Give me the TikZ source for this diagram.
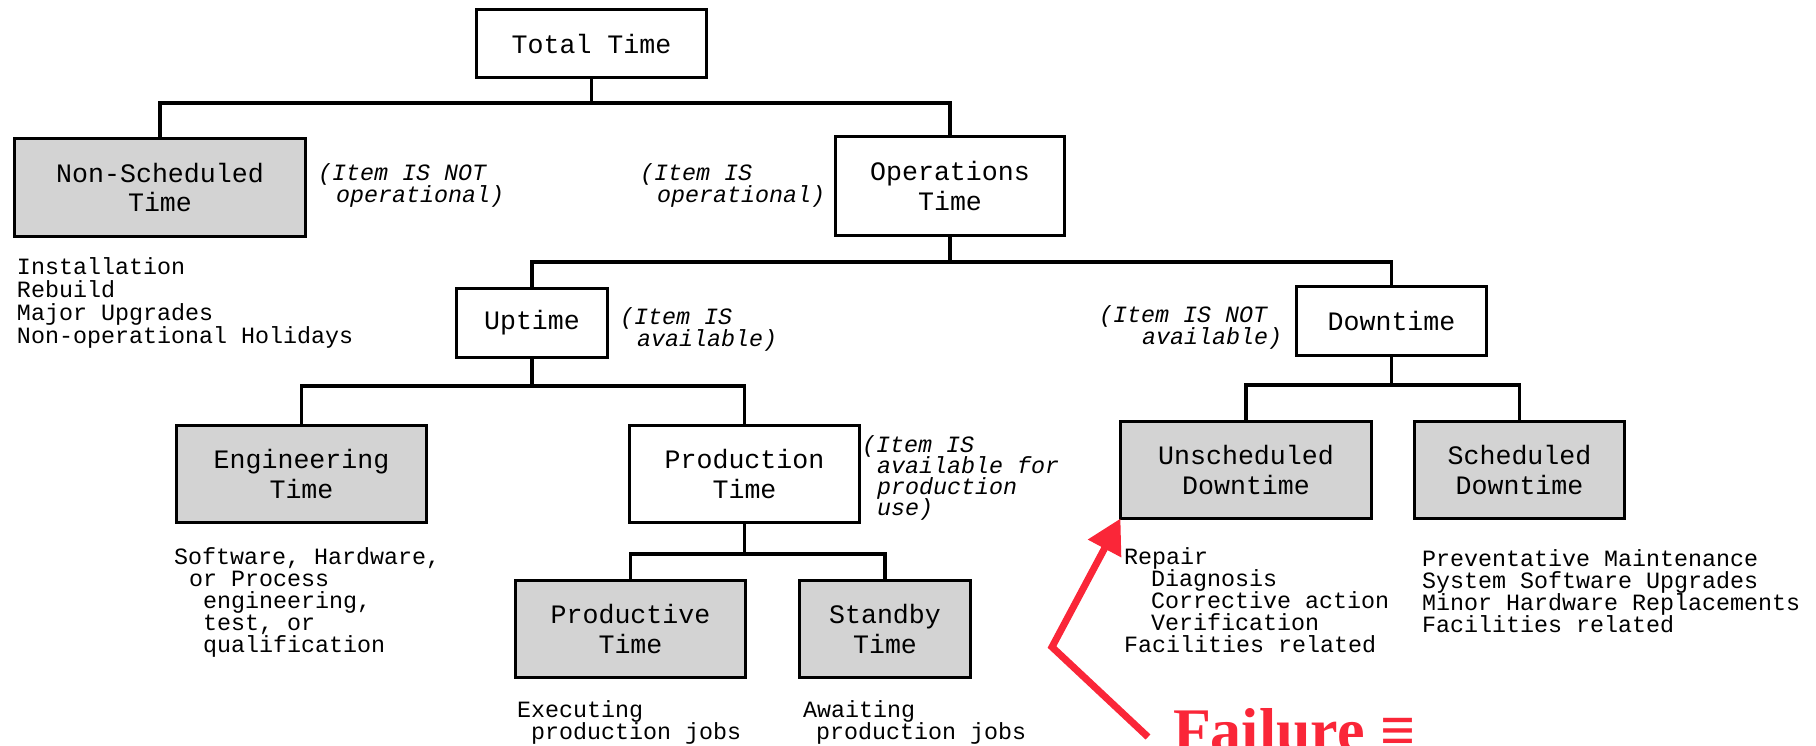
\documentclass[tikz,border=0pt]{standalone}
\usepackage{fontspec}
\setmainfont{Liberation Serif}
\setmonofont{Liberation Mono}
\usetikzlibrary{arrows.meta}
\definecolor{boxgray}{RGB}{211,211,211}
\definecolor{failred}{RGB}{250,38,56}
\tikzset{
  every node/.style={inner sep=0pt, outer sep=0pt},
  tbox/.style={draw=black, line width=1.8pt, fill=white, align=center,
    font=\fontsize{13.3pt}{14.8pt}\selectfont\ttfamily},
  gbox/.style={tbox, fill=boxgray},
  conn/.style={line width=1.7pt},
  note/.style={anchor=base west, font=\fontsize{11.67pt}{11pt}\selectfont\ttfamily},
  inote/.style={note, font=\fontsize{11.67pt}{11pt}\selectfont\ttfamily\itshape},
  failtext/.style={anchor=base west, text=failred,
    font=\fontsize{31pt}{31pt}\selectfont\bfseries},
  failarrow/.style={draw=failred, line width=3.5pt,
    -{Triangle[length=17pt,width=18pt]}},
}
\begin{document}
\begin{tikzpicture}[x=0.5pt, y=-0.5pt]
\useasboundingbox (0,0) rectangle (1816,745);
\clip (0,0) rectangle (1816,745);

% boxes of the time breakdown
\node[tbox, minimum width=115pt,   minimum height=34pt]   (total)   at (591.5,43.5) {Total Time};
\node[gbox, minimum width=145.5pt, minimum height=49pt]   (nonsch)  at (160,187.5)  {Non-Scheduled\\Time};
\node[tbox, minimum width=114.5pt, minimum height=49.5pt] (ops)     at (950,186)    {Operations\\Time};
\node[tbox, minimum width=75.5pt,  minimum height=34.5pt] (uptime)  at (532,323)    {Uptime};
\node[tbox, minimum width=95pt,    minimum height=34.5pt] (down)    at (1391.5,321) {Downtime};
\node[gbox, minimum width=125pt,   minimum height=48.5pt] (eng)     at (301.5,474)  {Engineering\\Time};
\node[tbox, minimum width=115pt,   minimum height=48.5pt] (prod)    at (744.5,474)  {Production\\Time};
\node[gbox, minimum width=115pt,   minimum height=48.5pt] (prodve)  at (630.5,629)  {Productive\\Time};
\node[gbox, minimum width=85.5pt,  minimum height=48.5pt] (standby) at (885,629)    {Standby\\Time};
\node[gbox, minimum width=125.5pt, minimum height=48.5pt] (unsched) at (1246,470)   {Unscheduled\\Downtime};
\node[gbox, minimum width=105pt,   minimum height=48.5pt] (sched)   at (1519.5,470) {Scheduled\\Downtime};

% heights of the horizontal buses
\coordinate (busA) at (0,103);
\coordinate (busB) at (0,262);
\coordinate (busC) at (0,386);
\coordinate (busD) at (0,554);
\coordinate (busE) at (0,385);

% tree connectors
\draw[conn] (total.south) -- (total.south |- busA);
\draw[conn] (nonsch.north) |- (ops.north |- busA) -- (ops.north);
\draw[conn] (ops.south) -- (ops.south |- busB);
\draw[conn] (uptime.north) |- (down.north |- busB) -- (down.north);
\draw[conn] (uptime.south) -- (uptime.south |- busC);
\draw[conn] (eng.north) |- (prod.north |- busC) -- (prod.north);
\draw[conn] (prod.south) -- (prod.south |- busD);
\draw[conn] (prodve.north) |- (standby.north |- busD) -- (standby.north);
\draw[conn] (down.south) -- (down.south |- busE);
\draw[conn] (unsched.north) |- (sched.north |- busE) -- (sched.north);

% state remarks
\node[inote] (r1a) at (318,180)  {(Item IS NOT};
\node[inote] (r1b) at (336,202)  {operational)};
\node[inote] (r2a) at (640,180)  {(Item IS};
\node[inote] (r2b) at (657,202)  {operational)};
\node[inote] (r3a) at (620,324)  {(Item IS};
\node[inote] (r3b) at (637,346)  {available)};
\node[inote] (r4a) at (1099,322) {(Item IS NOT};
\node[inote] (r4b) at (1142,344) {available)};
\node[inote] (r5a) at (862,452)  {(Item IS};
\node[inote] (r5b) at (877,473)  {available for};
\node[inote] (r5c) at (877,494)  {production};
\node[inote] (r5d) at (877,515)  {use)};

% activity lists under the boxes
\foreach \tx/\ty/\tt [count=\k] in {
    17/274/Installation, 17/297/Rebuild, 17/320/Major Upgrades,
    17/343/Non-operational Holidays,
    174/564/{Software{,} Hardware{,}}, 189/586/or Process,
    203/608/{engineering{,}}, 203/630/{test{,} or}, 203/652/qualification,
    517/717/Executing, 531/739/production jobs,
    803/717/Awaiting, 816/739/production jobs,
    1124/564/Repair, 1151/586/Diagnosis, 1151/608/Corrective action,
    1151/630/Verification, 1124/652/Facilities related,
    1422/566/Preventative Maintenance, 1422/588/System Software Upgrades,
    1422/610/Minor Hardware Replacements, 1422/632/Facilities related}
  \node[note] (act\k) at (\tx,\ty) {\tt};

% failure callout
\node[failtext] (fail) at (1173,751) {Failure ≡};
\coordinate (fstart) at (1148,737);
\coordinate (fbend) at (1052,647);
\draw[failarrow] (fstart) -- (fbend) -- (unsched.south west);
\end{tikzpicture}
\end{document}
